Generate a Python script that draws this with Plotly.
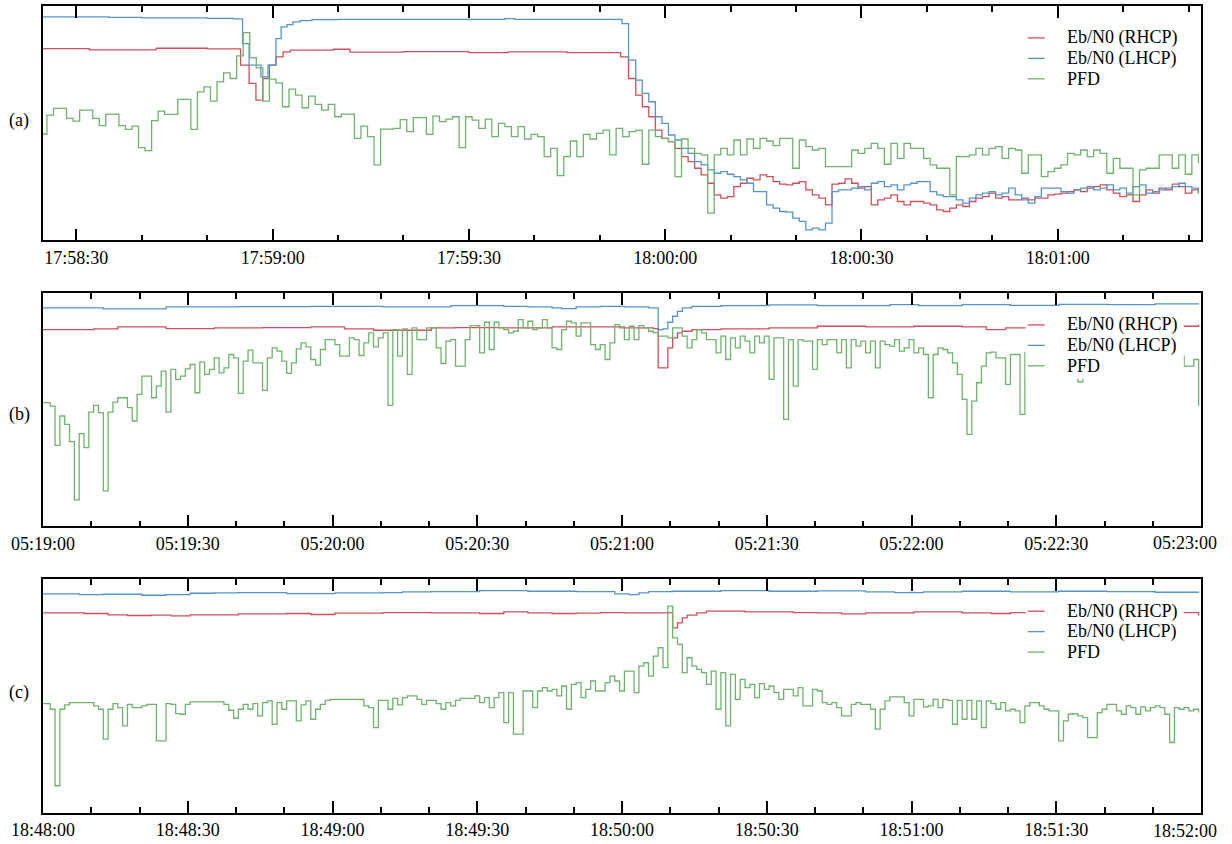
import pandas as pd
import plotly.graph_objects as go
from plotly.subplots import make_subplots

DAY = "2020-01-01"
SERIES = ["Eb/N0 (RHCP)", "Eb/N0 (LHCP)", "PFD"]
COLORS = ["#d0505a", "#5595cc", "#6fb36f"]
PANEL_TAGS = ["(a)", "(b)", "(c)"]

# ---------------- panel (a): seconds relative to 17:58:30 ----------------
A_ORIGIN = "17:58:30"
A_RANGE_S = [-5.1, 171.9]
A_TICKS = ["17:58:30", "17:59:00", "17:59:30", "18:00:00", "18:00:30", "18:01:00"]
A_YRANGE = [0.3, 70.8]

A_RHCP_T = [-5.5, 2, 12.2, 20, 25.1, 26.4, 27.45, 28.5, 29.5, 30.5, 31.6, 32.7, 39.3, 41.8, 50, 60, 66, 75,
            83.2, 84.4, 85.5, 86.5, 87.5, 88.5, 89.5, 90.5, 91.5, 92.5, 93.5, 94.5, 95.5, 96.5, 97.5, 98.5,
            99.5, 100.5, 101.5, 102.5, 103.5, 104.5, 105.5, 106.5, 107.5, 108.5, 109.5, 110.5, 111.5]
A_RHCP_V = [58.0, 57.6, 58.1, 57.9, 53.0, 47.5, 42.5, 49.0, 53.0, 55.5, 57.0, 57.5, 57.8, 56.9, 57.1, 56.8, 57.0, 56.8,
            55.5, 49.0, 44.0, 40.5, 37.5, 33.5, 31.0, 30.0, 28.0, 25.5, 24.0, 22.0, 20.0, 17.5, 14.0, 13.0,
            13.5, 16.5, 17.5, 19.0, 18.5, 20.0, 19.5, 18.0, 17.2, 17.0, 17.5, 18.0, 15.5]
A_RHCP_TAIL_T0 = 112.5   # 1 s samples from here
A_RHCP_TAIL = [14.0, 13.0, 11.0, 17.2, 17.5, 18.8, 17.5, 16.0, 16.5, 11.0,
               12.5, 13.0, 14.0, 12.0, 11.0, 12.0, 12.0, 11.5, 11.0, 9.5,
               9.0, 10.0, 11.0, 10.5, 12.0, 13.0, 13.5, 14.5, 13.0, 13.5,
               12.5, 12.5, 13.0, 12.5, 13.0, 13.0, 14.0, 14.2, 14.5, 15.0,
               15.5, 15.0, 16.0, 16.5, 17.0, 15.5, 14.5, 13.5, 14.0, 12.0,
               14.0, 15.5, 14.5, 16.0, 15.5, 17.2, 16.5, 14.5, 15.5, 14.5]

A_LHCP_T = [-5.5, 5, 10, 20, 24, 25.4, 26.4, 28.2, 29.3, 30.5, 31.3, 32.2, 33.1, 34.2, 36, 40, 65.5, 67,
            83.4, 84.4, 85.5, 86.5, 87.5, 88.5, 89.5, 90.5, 91.5, 92.5, 93.5, 94.5, 95.5, 96.5, 97.5, 98.5,
            99.5, 100.5, 101.5, 102.5, 103.5, 104.5, 105.5, 106.5, 107.5, 108.5, 109.5, 110.5, 111.5, 112.5,
            113.5, 114.5]
A_LHCP_V = [67.5, 67.4, 67.2, 67.1, 66.9, 59.5, 53.0, 49.5, 53.0, 61.0, 64.5, 65.2, 66.0, 66.4, 66.7, 66.8, 67.0, 66.8,
            65.5, 54.5, 48.5, 44.5, 42.0, 37.5, 35.5, 32.0, 30.5, 28.0, 26.5, 24.0, 23.0, 21.5, 20.5, 21.0,
            20.2, 19.5, 18.5, 17.5, 15.0, 15.0, 11.0, 10.0, 9.0, 8.8, 7.0, 6.0, 3.5, 4.0,
            3.5, 5.5]
A_LHCP_TAIL_T0 = 115.5
A_LHCP_TAIL = [15.0, 15.5, 15.5, 16.0, 16.5, 15.5, 17.5, 18.0, 16.5, 17.0,
               15.5, 17.0, 17.5, 18.0, 18.0, 15.0, 14.0, 13.5, 13.5, 12.5,
               11.5, 13.0, 14.0, 14.5, 15.0, 14.0, 14.5, 16.0, 14.0, 12.5,
               11.5, 13.5, 16.0, 16.0, 16.0, 15.0, 14.5, 15.5, 16.0, 16.5,
               15.5, 16.0, 17.0, 15.5, 16.0, 14.5, 16.5, 17.0, 14.5, 15.0,
               15.5, 16.0, 16.5, 17.5, 16.5, 16.0, 14.5]

A_PFD_T0 = -5.5   # 1 s samples
A_PFD = [32.3, 38.0, 40.0, 40.0, 37.0, 36.2, 39.5, 39.5, 37.0, 34.8,
         38.3, 38.3, 34.8, 33.7, 34.7, 28.2, 27.3, 36.3, 39.2, 38.2,
         38.2, 42.7, 42.7, 33.7, 45.0, 46.5, 42.2, 48.0, 50.7, 49.0,
         55.8, 62.8, 55.3, 52.2, 42.2, 48.8, 47.7, 40.5, 45.8, 44.0,
         40.2, 43.7, 41.2, 39.5, 41.2, 37.5, 38.3, 38.3, 31.0, 34.7,
         31.5, 23.0, 33.8, 33.8, 34.0, 36.6, 33.0, 37.2, 37.2, 32.2,
         37.7, 36.0, 36.8, 37.5, 28.2, 37.5, 36.5, 34.0, 36.8, 31.5,
         35.5, 34.5, 31.5, 34.5, 30.8, 32.2, 31.5, 25.5, 28.0, 19.8,
         25.5, 30.2, 25.5, 32.2, 30.8, 32.5, 33.5, 26.0, 34.0, 31.5,
         33.0, 33.5, 23.2, 33.5, 31.5, 31.0, 30.0, 19.5, 30.8, 28.0,
         26.5, 26.0, 8.5, 26.0, 28.0, 26.0, 30.5, 26.0, 30.8, 28.0,
         31.0, 30.2, 28.8, 31.0, 31.0, 22.0, 30.5, 28.5, 27.5, 28.0,
         22.5, 22.5, 22.5, 22.5, 27.5, 26.5, 28.0, 29.5, 28.0, 23.2,
         29.5, 25.0, 29.5, 28.0, 28.0, 25.0, 23.0, 22.0, 22.0, 14.0,
         25.5, 25.5, 26.0, 28.0, 26.0, 28.0, 28.5, 25.0, 28.0, 27.5,
         20.5, 26.0, 26.0, 19.5, 21.0, 22.0, 23.0, 26.5, 26.0, 27.5,
         25.5, 27.5, 26.5, 20.5, 25.0, 22.0, 22.0, 14.0, 21.5, 22.0,
         22.0, 26.0, 26.0, 22.0, 26.0, 20.2, 26.0, 23.5]

# ---------------- panel (b): seconds relative to 05:19:00 ----------------
B_ORIGIN = "05:19:00"
B_RANGE_S = [0, 240]
B_TICKS = ["05:19:00", "05:19:30", "05:20:00", "05:20:30", "05:21:00",
           "05:21:30", "05:22:00", "05:22:30", "05:23:00"]
B_YRANGE = [-0.2, 70.0]

B_RHCP_T = [-0.5, 10.5, 15.5, 25.5, 35.5, 45.5, 55.5, 62.5, 68.5, 75.5, 80.5, 85.5, 95.5, 105.5, 115.5,
            120.5, 126.5, 127.5, 129.5, 130.5, 131.5, 132.5, 134.5, 140.5, 150.5, 160.5, 170.5, 180.5,
            190.5, 195.5, 199.5, 204.5, 239.5]
B_RHCP_V = [59.0, 59.2, 59.8, 59.3, 59.5, 59.6, 59.8, 59.2, 58.8, 58.8, 59.5, 59.6, 59.5, 59.8, 59.8,
            59.5, 59.3, 47.5, 53.5, 56.5, 58.0, 58.5, 59.0, 59.2, 59.5, 60.0, 59.8, 60.0,
            59.8, 59.0, 59.5, 60.0, 60.5]

B_LHCP_T = [-0.5, 12.5, 25.5, 40.5, 55.5, 70.5, 84.5, 95.5, 100.5, 105.5, 107.5, 110.5, 115.5, 120.5,
            125.5, 127.5, 128.5, 129.5, 130.5, 131.5, 132.5, 134.5, 140.5, 150.5, 160.5, 175.5, 181.5,
            190.5, 200.5, 210.5, 220.5, 230.5, 239.5]
B_LHCP_V = [65.5, 65.2, 65.8, 65.9, 66.0, 65.8, 66.2, 66.0, 65.8, 65.5, 65.3, 65.8, 66.0, 65.8,
            65.5, 59.0, 59.2, 61.2, 63.0, 64.5, 65.5, 66.0, 66.2, 66.4, 66.2, 66.5, 66.2,
            66.5, 66.3, 66.6, 66.5, 66.7, 66.6]

B_PFD_T0 = -0.5
B_PFD = [37.0, 37.0, 36.0, 24.2, 33.0, 30.5, 25.3, 7.8, 27.7, 23.5,
         34.2, 36.2, 34.0, 10.5, 34.2, 37.2, 38.5, 38.5, 35.5, 31.5,
         39.5, 45.0, 45.0, 38.5, 42.0, 46.5, 34.2, 47.0, 44.0, 45.0,
         47.2, 48.5, 40.0, 49.2, 45.5, 47.0, 50.5, 46.0, 47.5, 51.5,
         50.5, 39.8, 49.5, 52.8, 49.0, 49.0, 40.7, 50.5, 53.5, 52.5,
         49.5, 45.8, 49.0, 53.2, 55.0, 53.8, 50.0, 48.3, 53.0, 56.0,
         56.0, 54.5, 51.0, 51.0, 56.5, 56.0, 51.2, 55.0, 58.0, 53.8,
         56.5, 58.0, 36.2, 59.0, 51.0, 59.2, 45.5, 59.5, 56.0, 56.0,
         59.5, 59.5, 53.5, 48.8, 55.5, 56.0, 48.0, 48.0, 56.0, 60.2,
         60.2, 52.0, 61.2, 53.0, 61.2, 59.5, 59.0, 58.0, 58.5, 62.0,
         59.5, 61.5, 59.0, 59.5, 62.0, 59.5, 53.5, 53.0, 59.0, 61.5,
         61.0, 57.0, 61.0, 61.0, 54.5, 53.0, 54.5, 50.0, 55.0, 60.5,
         59.5, 56.0, 60.0, 56.0, 60.2, 59.5, 58.5, 58.0, 57.0, 57.0,
         56.5, 59.5, 59.5, 57.0, 53.5, 56.0, 59.0, 58.0, 56.0, 56.0,
         52.0, 57.0, 50.0, 56.5, 53.5, 57.0, 55.5, 52.0, 57.0, 55.0,
         57.0, 44.0, 56.5, 56.5, 32.0, 56.0, 42.0, 56.0, 55.5, 55.5,
         47.0, 56.0, 54.5, 56.0, 56.0, 52.0, 56.0, 47.5, 56.0, 54.0,
         55.5, 52.0, 55.5, 47.5, 55.5, 54.5, 54.0, 56.0, 52.5, 53.5,
         56.0, 52.0, 53.5, 51.5, 38.5, 51.5, 53.5, 53.0, 52.0, 49.0,
         45.5, 38.0, 27.5, 37.5, 43.0, 48.0, 52.0, 52.2, 50.5, 50.5,
         42.5, 51.5, 51.5, 33.5, 52.0, 54.0, 55.0, 53.0, 52.0, 50.0,
         48.0, 52.0, 55.0, 53.0, 50.0, 43.3, 49.0, 52.0, 55.0, 56.0,
         54.0, 52.0, 50.0, 53.0, 55.0, 54.0, 51.0, 49.0, 52.0, 54.0,
         55.0, 53.0, 50.0, 52.0, 54.0, 53.0, 51.0, 48.0, 48.0, 50.0,
         36.0]

# ---------------- panel (c): seconds relative to 18:48:00 ----------------
C_ORIGIN = "18:48:00"
C_RANGE_S = [0, 240]
C_TICKS = ["18:48:00", "18:48:30", "18:49:00", "18:49:30", "18:50:00",
           "18:50:30", "18:51:00", "18:51:30", "18:52:00"]
C_YRANGE = [0.3, 70.6]

C_RHCP_T = [-0.5, 8.5, 13.5, 17.5, 22.5, 26.5, 30.5, 40.5, 50.5, 55.5, 60.5, 70.5, 80.5, 90.5, 95.5,
            100.5, 105.5, 110.5, 115.5, 120.5, 129.5, 130.5, 131.5, 132.5, 133.5, 135.5, 137.5, 145.5,
            155.5, 160.5, 165.5, 170.5, 180.5, 190.5, 196.5, 200.5, 239.5]
C_RHCP_V = [60.5, 60.3, 59.9, 59.7, 59.8, 59.6, 59.9, 60.2, 60.3, 60.0, 60.4, 60.6, 60.5, 60.3, 60.8,
            60.5, 60.3, 60.4, 60.6, 60.5, 60.6, 56.0, 57.5, 59.0, 59.8, 60.5, 61.0, 60.8,
            60.6, 60.5, 60.2, 60.5, 60.8, 60.5, 60.3, 60.6, 59.7]

C_LHCP_T = [-0.5, 7.5, 12.5, 20.5, 25.5, 30.5, 35.5, 40.5, 50.5, 60.5, 70.5, 74.5, 80.5, 90.5, 100.5,
            110.5, 118.5, 121.5, 123.5, 125.5, 130.5, 140.5, 150.5, 160.5, 170.5, 176.5, 182.5, 190.5,
            200.5, 210.5, 220.5, 230.5, 239.5]
C_LHCP_V = [66.2, 66.0, 66.1, 65.8, 66.0, 66.4, 66.5, 66.6, 66.3, 66.5, 66.6, 66.8, 66.9, 67.2, 67.0,
            66.9, 66.2, 66.0, 66.5, 66.9, 67.0, 67.2, 67.0, 67.1, 66.8, 66.6, 66.8, 67.0,
            66.8, 67.0, 66.9, 66.7, 66.6]

C_PFD_T0 = -0.5
C_PFD = [33.2, 33.2, 31.5, 8.5, 31.5, 32.8, 33.5, 33.5, 33.5, 33.5,
         33.5, 32.5, 31.5, 22.5, 31.5, 33.2, 32.0, 26.5, 33.0, 32.0,
         32.0, 32.5, 33.0, 33.0, 22.0, 22.0, 33.2, 33.0, 30.2, 30.0,
         33.0, 33.7, 33.7, 33.7, 33.7, 33.7, 33.7, 33.7, 33.0, 31.2,
         28.8, 31.5, 33.0, 31.5, 33.2, 29.5, 33.5, 34.0, 27.0, 33.5,
         31.5, 34.0, 34.0, 28.0, 32.8, 34.0, 28.5, 31.5, 33.0, 34.2,
         34.5, 34.5, 34.5, 34.5, 34.5, 34.5, 34.5, 32.5, 32.0, 26.0,
         34.2, 34.2, 31.5, 34.8, 32.8, 35.0, 35.5, 35.5, 34.5, 33.0,
         34.2, 34.2, 33.2, 31.5, 33.5, 32.5, 34.2, 34.8, 34.8, 34.8,
         35.5, 33.5, 35.0, 32.0, 35.0, 36.5, 27.5, 36.5, 24.0, 24.0,
         37.0, 37.0, 32.0, 37.0, 38.0, 37.0, 37.5, 35.5, 38.5, 31.5,
         39.0, 39.5, 35.0, 37.5, 40.0, 37.0, 37.0, 39.5, 41.5, 40.0,
         37.0, 43.0, 43.0, 36.5, 44.5, 45.5, 41.5, 47.5, 50.0, 44.0,
         62.5, 53.0, 51.0, 42.5, 47.0, 44.5, 43.5, 42.5, 39.0, 43.0,
         31.5, 42.5, 26.5, 42.0, 34.5, 40.5, 38.0, 39.0, 35.0, 39.2,
         37.5, 38.5, 36.5, 34.5, 37.5, 37.5, 35.5, 38.0, 32.5, 32.5,
         37.5, 37.0, 33.5, 33.0, 33.5, 32.0, 29.5, 29.5, 33.0, 33.5,
         33.0, 33.0, 31.5, 25.5, 31.5, 34.0, 35.2, 35.2, 35.2, 33.5,
         29.5, 34.5, 34.5, 32.2, 32.5, 34.5, 32.0, 34.5, 34.2, 27.0,
         34.2, 28.5, 34.2, 28.5, 34.0, 26.0, 34.0, 33.2, 31.5, 33.5,
         31.0, 31.5, 31.0, 27.5, 32.5, 33.5, 33.5, 32.5, 31.5, 31.0,
         31.0, 22.0, 28.0, 30.0, 30.2, 29.5, 29.0, 23.0, 23.0, 30.5,
         31.5, 33.0, 33.0, 31.0, 30.0, 32.5, 32.0, 30.0, 32.2, 31.0,
         32.0, 32.5, 32.0, 30.0, 21.5, 32.0, 31.5, 32.0, 31.0, 31.5,
         30.5]


def stamps(origin, secs):
    base = pd.Timestamp(f"{DAY} {origin}")
    return [base + pd.Timedelta(seconds=float(s)) for s in secs]


def one_hz(t0, values):
    return [t0 + i for i in range(len(values))]


panels = [
    dict(origin=A_ORIGIN, rng=A_RANGE_S, ticks=A_TICKS, yr=A_YRANGE, last_outside=False,
         series=[(A_RHCP_T + one_hz(A_RHCP_TAIL_T0, A_RHCP_TAIL), A_RHCP_V + A_RHCP_TAIL),
                 (A_LHCP_T + one_hz(A_LHCP_TAIL_T0, A_LHCP_TAIL), A_LHCP_V + A_LHCP_TAIL),
                 (one_hz(A_PFD_T0, A_PFD), A_PFD)]),
    dict(origin=B_ORIGIN, rng=B_RANGE_S, ticks=B_TICKS, yr=B_YRANGE, last_outside=True,
         series=[(B_RHCP_T, B_RHCP_V), (B_LHCP_T, B_LHCP_V), (one_hz(B_PFD_T0, B_PFD), B_PFD)]),
    dict(origin=C_ORIGIN, rng=C_RANGE_S, ticks=C_TICKS, yr=C_YRANGE, last_outside=True,
         series=[(C_RHCP_T, C_RHCP_V), (C_LHCP_T, C_LHCP_V), (one_hz(C_PFD_T0, C_PFD), C_PFD)]),
]

SERIF = "Liberation Serif, Times New Roman, serif"
W, H = 1232, 844
ML, MR, MT, MB = 43, 31, 4, 31
PLOT_W = W - ML - MR
PLOT_H = H - MT - MB
PANEL_PX = [(4, 239), (291.7, 525.7), (578.7, 813)]   # top/bottom pixel rows of each panel
TAG_Y_PX = [118.3, 413.3, 692.3]
LABEL_Y_PX = [255, 542.7, 830.7]

fig = make_subplots(rows=3, cols=1)

for k, p in enumerate(panels):
    row = k + 1
    for (t, v), name, color in zip(p["series"], SERIES, COLORS):
        fig.add_trace(go.Scatter(x=stamps(p["origin"], t), y=v, mode="lines", name=name,
                                 line=dict(color=color, width=1.3, shape="hv"),
                                 showlegend=False, hoverinfo="skip"), row=row, col=1)

    top_px, bot_px = PANEL_PX[k]
    dom = [1 - (bot_px - MT) / PLOT_H, 1 - (top_px - MT) / PLOT_H]
    tickvals = [pd.Timestamp(f"{DAY} {lab}") for lab in p["ticks"]]
    ticktext = list(p["ticks"])
    if p["last_outside"]:
        ticktext[-1] = ""
    base = pd.Timestamp(f"{DAY} {p['origin']}")
    xa = dict(type="date", range=stamps(p["origin"], p["rng"]), tickvals=tickvals, ticktext=ticktext,
              ticks="inside", ticklen=12, tickwidth=1.5, tickcolor="black", mirror="allticks",
              showline=True, linecolor="black", linewidth=1.5, showgrid=False, zeroline=False,
              tickfont=dict(family=SERIF, size=18, color="black"),
              minor=dict(dtick=10000, tick0=base, ticks="inside", ticklen=6, tickwidth=1.5,
                         tickcolor="black", showgrid=False))
    ya = dict(range=p["yr"], domain=dom, showline=True, mirror=True, linecolor="black", linewidth=1.5,
              showticklabels=False, ticks="", showgrid=False, zeroline=False)
    fig.update_xaxes(xa, row=row, col=1)
    fig.update_yaxes(ya, row=row, col=1)

    sfx = "" if k == 0 else str(k + 1)
    ph = bot_px - top_px
    # legend (white box hiding the lines below it)
    box_x0 = (1026 - 43.3) / PLOT_W
    box_x1 = (1184 - 43.3) / PLOT_W
    fig.add_shape(type="rect", xref=f"x{sfx} domain", yref=f"y{sfx} domain",
                  x0=box_x0, x1=box_x1, y0=1 - 86 / ph, y1=1 - 20 / ph,
                  fillcolor="white", line=dict(width=0), layer="above")
    for j, (name, color) in enumerate(zip(SERIES, COLORS)):
        yy = 1 - (32 + 20.5 * j) / ph
        fig.add_shape(type="line", xref=f"x{sfx} domain", yref=f"y{sfx} domain",
                      x0=(1028 - 43.3) / PLOT_W, x1=(1045 - 43.3) / PLOT_W, y0=yy, y1=yy,
                      line=dict(color=color, width=1.3), layer="above")
        fig.add_annotation(xref=f"x{sfx} domain", yref=f"y{sfx} domain",
                           x=(1065 - 43.3) / PLOT_W, y=yy, xanchor="left", yanchor="middle",
                           text=name, showarrow=False,
                           font=dict(family=SERIF, size=18, color="black"))
    # panel tag
    fig.add_annotation(xref="paper", yref="paper", x=(19.5 - ML) / PLOT_W,
                       y=1 - (TAG_Y_PX[k] - MT) / PLOT_H, xanchor="center", yanchor="middle",
                       text=PANEL_TAGS[k], showarrow=False,
                       font=dict(family=SERIF, size=18, color="black"))
    if p["last_outside"]:
        fig.add_annotation(xref="paper", yref="paper", x=(1219 - ML) / PLOT_W,
                           y=1 - (LABEL_Y_PX[k] - MT) / PLOT_H, xanchor="right", yanchor="middle",
                           text=p["ticks"][-1], showarrow=False,
                           font=dict(family=SERIF, size=18, color="black"))

fig.update_layout(width=W, height=H, autosize=False,
                  margin=dict(l=ML, r=MR, t=MT, b=MB),
                  paper_bgcolor="white", plot_bgcolor="white", showlegend=False)

fig.write_html("out.html")
